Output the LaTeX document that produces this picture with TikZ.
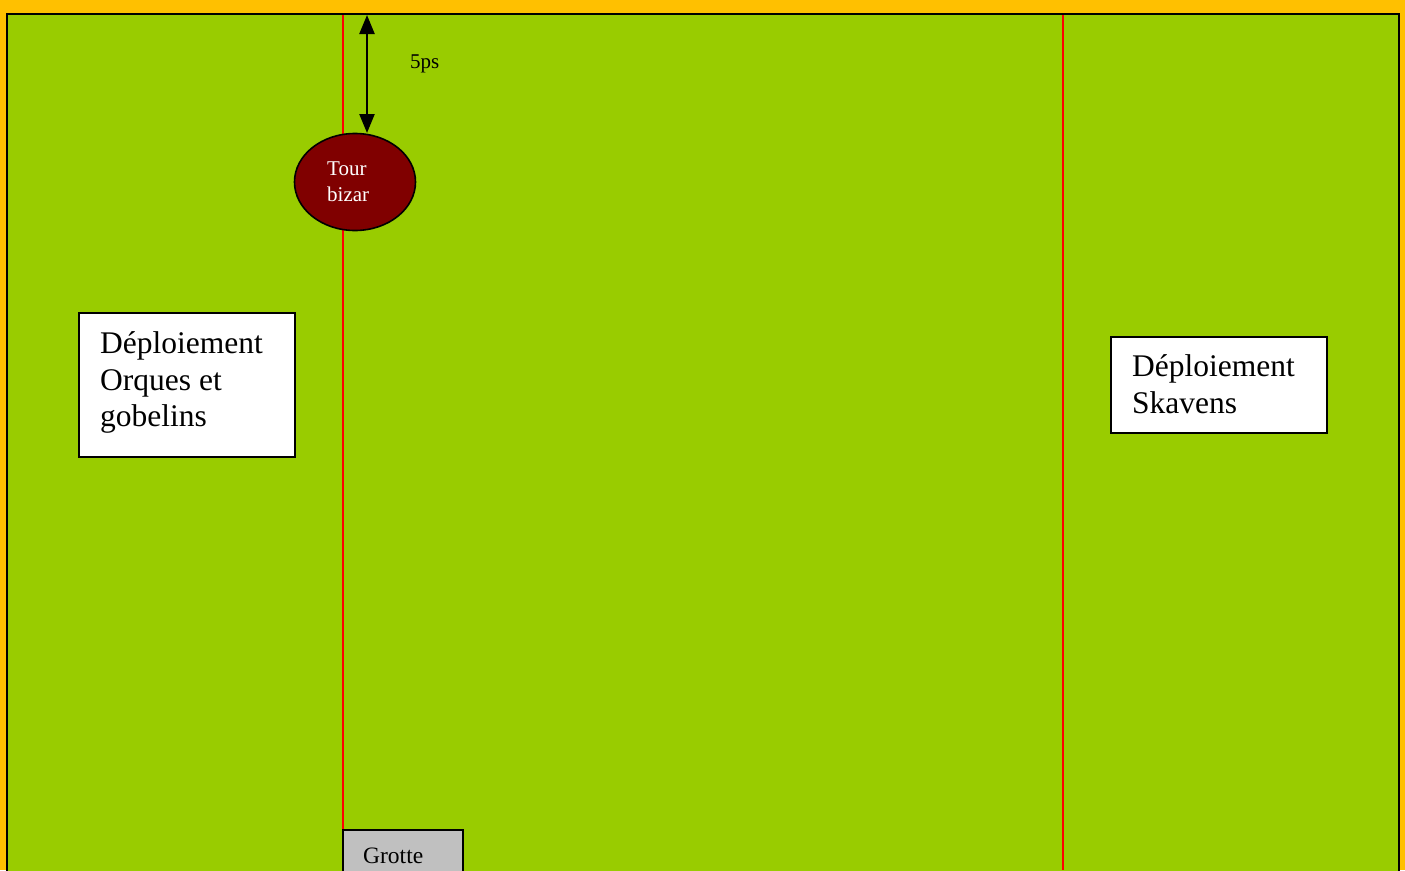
\documentclass[tikz,border=0pt]{standalone}
\usepackage{fontspec}
\setmainfont{Liberation Serif}
\usetikzlibrary{arrows.meta,shapes.geometric}
\definecolor{bgorange}{HTML}{FFC000}
\definecolor{fieldgreen}{HTML}{99CC00}
\definecolor{tourred}{HTML}{800000}
\definecolor{grottegrey}{HTML}{C0C0C0}
\tikzset{
  deploybox/.style={draw=black, fill=white, line width=2pt, anchor=north west, inner sep=0pt, outer sep=0pt},
  bigtext/.style={anchor=base west, inner sep=0pt, font=\fontsize{31.5}{37}\selectfont},
  smalltext/.style={anchor=base west, inner sep=0pt, font=\fontsize{21}{26}\selectfont},
  zoneline/.style={draw=red, line width=1.6pt},
}
\begin{document}
\begin{tikzpicture}[x=1pt,y=-1pt]
\useasboundingbox (0,0) rectangle (1405,870);
\fill[bgorange] (0,0) rectangle (1405,870);
\begin{scope}
\clip (0,0) rectangle (1405,870);
\draw[fill=fieldgreen, line width=2.4pt] (7,14) rectangle (1399,900);
\end{scope}
% deployment lines
\coordinate (l1top) at (343,15);
\coordinate (l1bot) at (343,870);
\coordinate (l2top) at (1063,15);
\coordinate (l2bot) at (1063,870);
\draw[zoneline] (l1top) -- (l1bot);
\draw[zoneline] (l2top) -- (l2bot);
% tower
\node[ellipse, draw=black, fill=tourred, line width=1.6pt, minimum width=121pt, minimum height=97pt, inner sep=0pt] (tour) at (355,182) {};
\node[smalltext, text=white] (tour1) at (327,175) {Tour};
\node[smalltext, text=white] (tour2) at (327,201) {bizar};
% distance arrow
\coordinate (a1) at (367,15);
\coordinate (a2) at (367,133);
\draw[line width=2.4pt, {Triangle[width=15pt,length=19pt]}-{Triangle[width=15pt,length=19pt]}] (a1) -- (a2);
\node[smalltext] (dist) at (410,68) {5ps};
% deployment boxes
\node[deploybox, minimum width=216pt, minimum height=144pt] (orcbox) at (79,313) {};
\node[bigtext] (orc1) at (100,353) {Déploiement};
\node[bigtext] (orc2) at (100,390) {Orques et};
\node[bigtext] (orc3) at (100,426) {gobelins};
\node[deploybox, minimum width=216pt, minimum height=96pt] (skbox) at (1111,337) {};
\node[bigtext] (sk1) at (1132,376) {Déploiement};
\node[bigtext] (sk2) at (1132,413) {Skavens};
% cave
\begin{scope}
\clip (0,0) rectangle (1405,870);
\node[draw=black, fill=grottegrey, line width=1.6pt, anchor=north west, outer sep=0pt, minimum width=120pt, minimum height=60pt, inner sep=0pt] (grotte) at (343,830) {};
\end{scope}
\node[anchor=base west, inner sep=0pt, font=\fontsize{23.5}{28}\selectfont] (grottetext) at (363,863) {Grotte};
\end{tikzpicture}
\end{document}
